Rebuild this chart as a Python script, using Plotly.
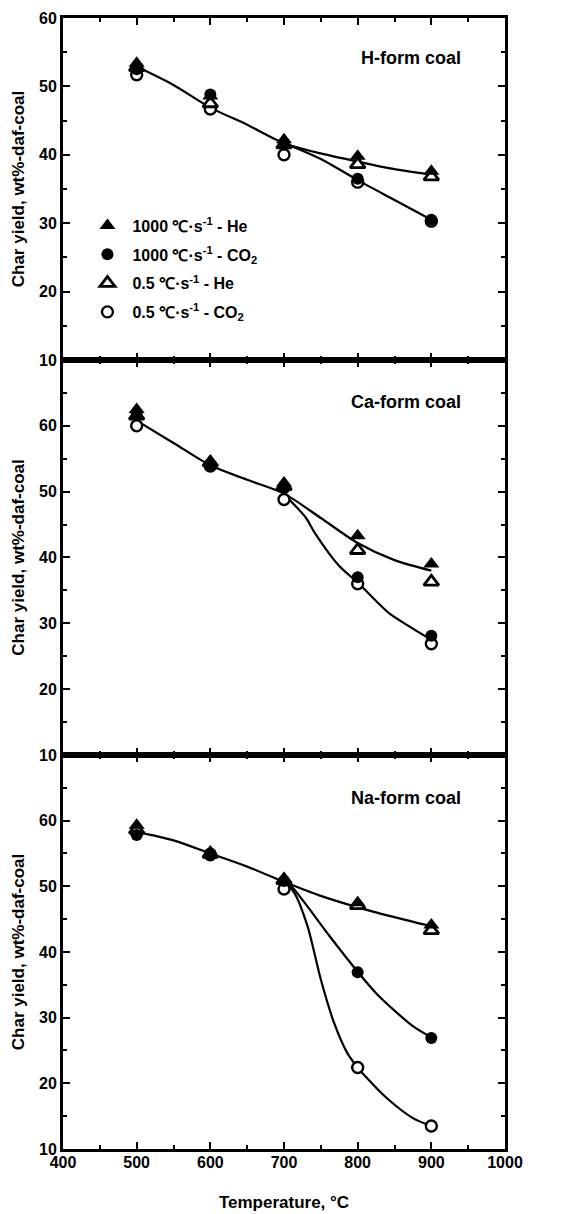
import plotly.graph_objects as go

# ---------------- data ----------------
temps = [500, 600, 700, 800, 900]

# H-form coal (top panel)
h_fast_he = [53.4, 48.6, 42.2, 39.8, 37.6]
h_fast_co2 = [52.5, 48.8, 41.5, 36.5, 30.5]
h_slow_he = [52.8, 47.5, 41.5, 38.6, 36.8]
h_slow_co2 = [51.7, 46.7, 40.0, 36.0, 30.3]
h_fit_he_t = [500, 550, 600, 650, 700, 750, 800, 850, 900]
h_fit_he_y = [52.9, 50.2, 46.9, 44.4, 41.7, 40.2, 39.0, 37.9, 37.1]
h_fit_co2_t = [700, 750, 800, 850, 900]
h_fit_co2_y = [41.7, 39.4, 36.3, 33.4, 30.5]

# Ca-form coal (middle panel)
ca_fast_he = [62.5, 54.6, 51.3, 43.3, 39.0]
ca_fast_co2 = [61.8, 54.0, 50.5, 37.0, 28.1]
ca_slow_he = [61.5, 54.4, 50.8, 41.1, 36.3]
ca_slow_co2 = [60.0, 53.9, 48.8, 36.0, 26.9]
ca_fit_he_t = [500, 550, 600, 650, 700, 750, 800, 850, 900]
ca_fit_he_y = [60.8, 57.4, 54.0, 51.8, 49.7, 46.0, 42.2, 39.6, 38.0]
ca_fit_co2_t = [700, 714, 730, 742, 775, 800, 843, 875, 900]
ca_fit_co2_y = [49.7, 48.0, 46.0, 43.7, 38.7, 36.2, 31.5, 29.2, 27.5]

# Na-form coal (bottom panel)
na_fast_he = [59.3, 55.2, 51.2, 47.5, 44.1]
na_fast_co2 = [57.8, 55.0, 50.8, 36.9, 26.9]
na_slow_he = [58.6, 54.9, 50.9, 47.1, 43.3]
na_slow_co2 = [58.2, 54.8, 49.6, 22.4, 13.5]
na_fit_he_t = [500, 550, 600, 650, 700, 746, 800, 850, 900]
na_fit_he_y = [58.3, 57.0, 55.0, 53.0, 50.7, 48.7, 46.8, 45.3, 43.9]
na_fit_fco2_t = [700, 710, 730, 762, 800, 827, 875, 900]
na_fit_fco2_y = [50.7, 50.0, 47.2, 42.4, 37.0, 33.5, 28.7, 27.0]
na_fit_sco2_t = [700, 714, 732, 750, 768, 786, 800, 811, 839, 875, 900]
na_fit_sco2_y = [50.7, 49.0, 43.9, 35.8, 29.2, 24.6, 22.4, 21.0, 17.8, 14.7, 13.5]

legend_names = [
    "<b>1000 ℃·s<sup>-1</sup> - He</b>",
    "<b>1000 ℃·s<sup>-1</sup> - CO<sub>2</sub></b>",
    "<b>0.5 ℃·s<sup>-1</sup> - He</b>",
    "<b>0.5 ℃·s<sup>-1</sup> - CO<sub>2</sub></b>",
]
panel_labels = ["H-form coal", "Ca-form coal", "Na-form coal"]
y_title = "Char yield, wt%-daf-coal"
x_title = "Temperature, °C"
y_ticks = [10, 20, 30, 40, 50, 60]
y_minor = [15, 25, 35, 45, 55, 65]
x_ticks = [400, 500, 600, 700, 800, 900, 1000]

FONT = "Arial, Liberation Sans, sans-serif"

# ---------------- figure ----------------
fig = go.Figure()

panels = [
    ("x3", "y3", [(h_fit_he_t, h_fit_he_y), (h_fit_co2_t, h_fit_co2_y)],
     [h_slow_co2, h_slow_he, h_fast_co2, h_fast_he], True),
    ("x2", "y2", [(ca_fit_he_t, ca_fit_he_y), (ca_fit_co2_t, ca_fit_co2_y)],
     [ca_slow_co2, ca_slow_he, ca_fast_co2, ca_fast_he], False),
    ("x", "y", [(na_fit_he_t, na_fit_he_y), (na_fit_fco2_t, na_fit_fco2_y),
                (na_fit_sco2_t, na_fit_sco2_y)],
     [na_slow_co2, na_slow_he, na_fast_co2, na_fast_he], False),
]

marker_styles = [
    dict(symbol="circle", size=11, color="white", line=dict(color="black", width=2.4)),
    dict(symbol="triangle-up", size=13, color="white", line=dict(color="black", width=2.8)),
    dict(symbol="circle", size=12, color="black", line=dict(color="black", width=0)),
    dict(symbol="triangle-up", size=14, color="black", line=dict(color="black", width=0)),
]
legend_index = [3, 2, 1, 0]

for xa, ya, fits, series, show in panels:
    for ft, fy in fits:
        fig.add_trace(go.Scatter(
            x=ft, y=fy, mode="lines", xaxis=xa, yaxis=ya,
            line=dict(color="black", width=2.2, shape="spline", smoothing=0.8),
            showlegend=False, hoverinfo="skip"))
    for k, vals in enumerate(series):
        li = legend_index[k]
        fig.add_trace(go.Scatter(
            x=temps, y=vals, mode="markers", xaxis=xa, yaxis=ya,
            marker=marker_styles[k], name=legend_names[li],
            legendrank=li + 1, legendgroup="g%d" % li,
            showlegend=show))

axis_common = dict(
    showline=True, linecolor="black", linewidth=3, mirror="ticks",
    ticks="inside", ticklen=7, tickwidth=1.8, tickcolor="black",
    showgrid=False, zeroline=False, automargin=False,
    tickfont=dict(family=FONT, size=16, color="black"),
)

xcommon = dict(axis_common, range=[400, 1000],
               minor=dict(dtick=50, ticks="inside", ticklen=4, tickwidth=1.8, tickcolor="black"))
ycommon = dict(axis_common, tickvals=y_ticks,
               ticktext=["<b>%d</b>" % v for v in y_ticks],
               minor=dict(tickvals=y_minor, ticks="inside", ticklen=4,
                          tickwidth=1.8, tickcolor="black"),
               title=dict(text="<b>%s</b>" % y_title, standoff=11,
                          font=dict(family=FONT, size=17, color="black")))

d_bot = [0.0, 0.3484]
d_mid = [0.3484, 0.6976]
d_top = [0.6976, 1.0]

fig.update_layout(
    width=582, height=1214,
    margin=dict(l=63, r=77, t=18, b=65),
    paper_bgcolor="white", plot_bgcolor="white",
    font=dict(family=FONT, color="black"),
    xaxis=dict(xcommon, anchor="y", domain=[0, 1],
               tickvals=x_ticks, ticklabelstandoff=-3,
               ticktext=["<b>%d</b>" % v for v in x_ticks],
               title=dict(text="<b>%s</b>" % x_title, standoff=26,
                          font=dict(family=FONT, size=17, color="black"))),
    xaxis2=dict(xcommon, anchor="y2", matches="x", showticklabels=False,
                tickvals=x_ticks),
    xaxis3=dict(xcommon, anchor="y3", matches="x", showticklabels=False,
                tickvals=x_ticks),
    yaxis=dict(ycommon, domain=d_bot, range=[10, 70], anchor="x"),
    yaxis2=dict(ycommon, domain=d_mid, range=[10, 70], anchor="x2"),
    yaxis3=dict(ycommon, domain=d_top, range=[10, 60], anchor="x3"),
    legend=dict(x=0.044, y=0.8315, xanchor="left", yanchor="top",
                bgcolor="rgba(0,0,0,0)", tracegroupgap=5, itemwidth=40,
                font=dict(family=FONT, size=16, color="black"),
                itemsizing="trace"),
)

for i, (xa, ya) in enumerate([("x3", "y3"), ("x2", "y2"), ("x", "y")]):
    yfrac = [0.883, 0.894, 0.891][i]
    fig.add_annotation(
        text="<b>%s</b>" % panel_labels[i], showarrow=False,
        xref=xa + " domain", yref=ya + " domain", x=0.905, y=yfrac,
        xanchor="right", yanchor="middle",
        font=dict(family=FONT, size=18, color="black"))

fig.write_html("out.html")
